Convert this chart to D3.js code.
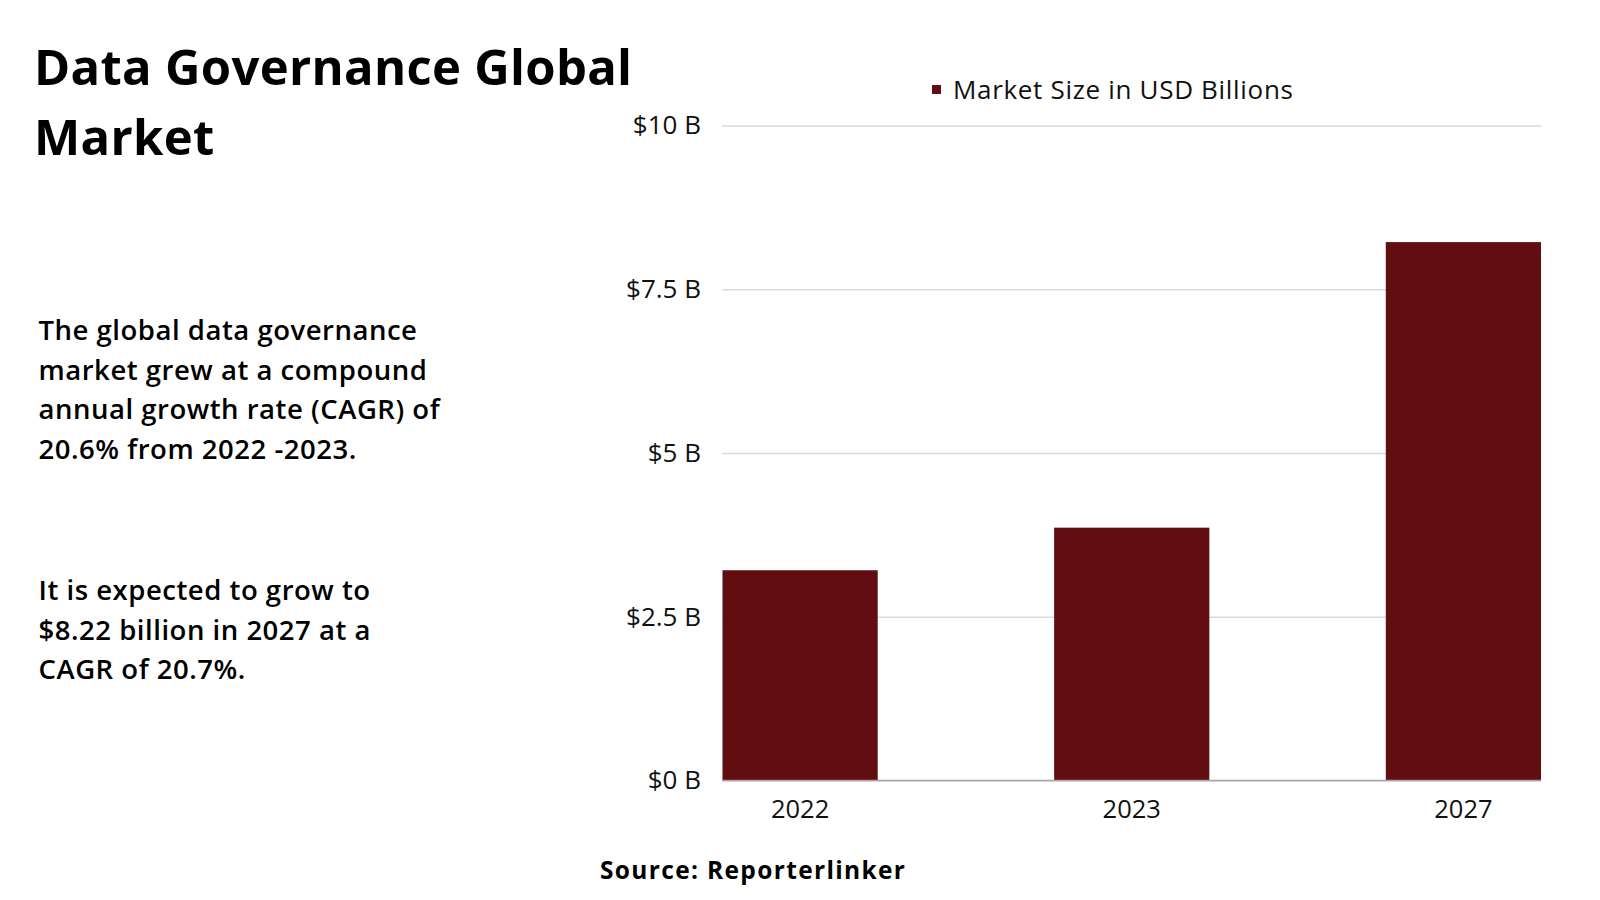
<!DOCTYPE html>
<html>
<head>
<meta charset="utf-8">
<script src="https://cdn.jsdelivr.net/npm/d3@7"></script>
<style>
  html, body { margin: 0; padding: 0; background: #fff; }
  svg { display: block; }
</style>
</head>
<body>
<svg id="chart" width="1600" height="900"></svg>
<script>
const categories = ["2022", "2023", "2027"];
const values = [3.21, 3.86, 8.22];
const tickValues = [0, 2.5, 5, 7.5, 10];
const tickLabels = ["$0 B", "$2.5 B", "$5 B", "$7.5 B", "$10 B"];
const seriesName = "Market Size in USD Billions";
const titleLines = ["Data Governance Global", "Market"];
const para1 = ["The global data governance", "market grew at a compound", "annual growth rate (CAGR) of", "20.6% from 2022 -2023."];
const para2 = ["It is expected to grow to", "$8.22 billion in 2027 at a", "CAGR of 20.7%."];
const sourceText = "Source: Reporterlinker";

const svg = d3.select("#chart");
const barColor = "#620d10";
const axisFont = "'Open Sans', sans-serif";
const headFont = "'Open Sans', sans-serif";

// adjust letter-spacing so that a text node reaches target width
function fitSpacing(node, target) {
  const t = node.textContent;
  const w = node.getComputedTextLength();
  const ls = (target - w) / Math.max(1, t.length - 1);
  d3.select(node).attr("letter-spacing", ls.toFixed(2));
  return ls;
}

const x = d3.scaleBand().domain(categories).range([722.5, 1541]).paddingInner(0.532).paddingOuter(0);
const y = d3.scaleLinear().domain([0, 10]).range([780.5, 125.5]);

// gridlines + y labels
const yAxis = d3.axisLeft(y).tickValues(tickValues).tickSize(-(1541 - 722)).tickFormat((d, i) => tickLabels[i]).tickPadding(21);
const gy = svg.append("g").attr("transform", "translate(722,0)").call(yAxis);
gy.select(".domain").remove();
gy.selectAll(".tick line").attr("stroke", "#d9d9d9").attr("stroke-width", 1.5);
gy.selectAll(".tick text").attr("font-family", axisFont).attr("font-size", 26).attr("fill", "#111");

// bars
svg.append("g").selectAll("rect").data(values).join("rect")
  .attr("x", (d, i) => x(categories[i]))
  .attr("y", d => y(d))
  .attr("width", x.bandwidth())
  .attr("height", d => y(0) - y(d))
  .attr("fill", barColor);

// baseline
svg.append("line").attr("x1", 722.5).attr("x2", 1541).attr("y1", y(0)).attr("y2", y(0)).attr("stroke", "#a6a6a6").attr("stroke-width", 1.5);

// x axis
const xAxis = d3.axisBottom(x).tickSize(0).tickPadding(19);
const gx = svg.append("g").attr("transform", `translate(0,${y(0)})`).call(xAxis);
gx.select(".domain").remove();
gx.selectAll(".tick text").attr("font-family", axisFont).attr("font-size", 25.5).attr("fill", "#111");

// legend
const lg = svg.append("g");
lg.append("rect").attr("x", 932).attr("y", 85).attr("width", 9).attr("height", 9).attr("fill", barColor);
const lgText = lg.append("text").attr("x", 953).attr("y", 99).text(seriesName)
  .attr("font-family", axisFont).attr("font-size", 26).attr("fill", "#111");
fitSpacing(lgText.node(), 340);

// title
const title = svg.append("g").selectAll("text").data(titleLines).join("text")
  .attr("x", 34).attr("y", (d, i) => 85 + i * 70)
  .attr("font-family", headFont).attr("font-weight", 700).attr("font-size", 49).attr("fill", "#000")
  .text(d => d);
const tls = fitSpacing(title.nodes()[0], 598);
title.attr("letter-spacing", tls.toFixed(2));

// paragraphs
const pStyle = sel => sel.attr("font-family", headFont).attr("font-weight", 600).attr("font-size", 27.5).attr("fill", "#000");
const p1 = svg.append("g").selectAll("text").data(para1).join("text")
  .attr("x", 38.5).attr("y", (d, i) => 340 + i * 39.6).text(d => d).call(pStyle);
const p2 = svg.append("g").selectAll("text").data(para2).join("text")
  .attr("x", 38.5).attr("y", (d, i) => 600 + i * 39.6).text(d => d).call(pStyle);
const pls = fitSpacing(p1.nodes()[2], 401);
p1.attr("letter-spacing", pls.toFixed(2));
p2.attr("letter-spacing", pls.toFixed(2));

// source
const src = svg.append("text").attr("x", 600).attr("y", 879).text(sourceText)
  .attr("font-family", headFont).attr("font-weight", 700).attr("font-size", 24.5).attr("fill", "#000");
fitSpacing(src.node(), 305);
</script>
</body>
</html>
